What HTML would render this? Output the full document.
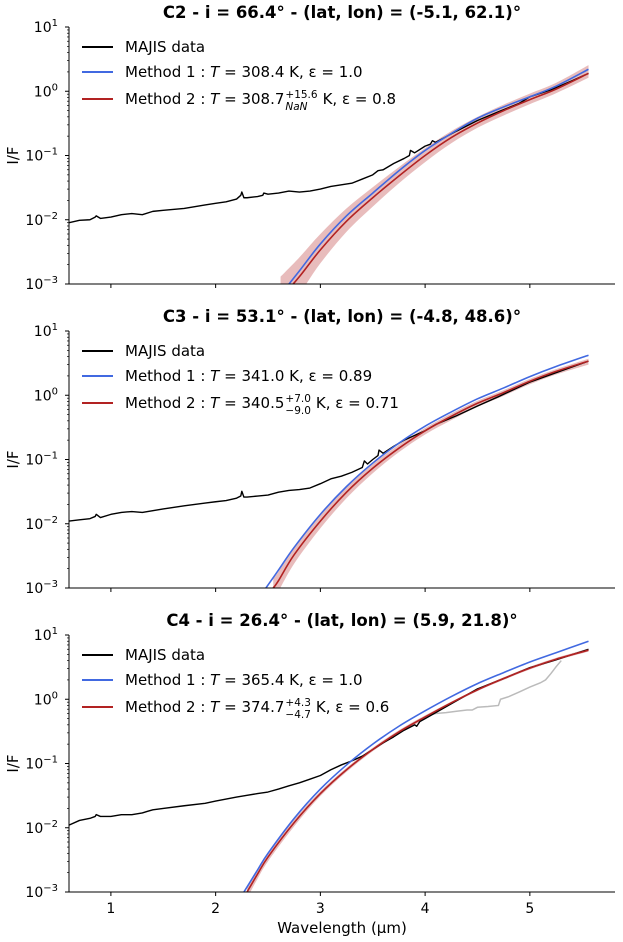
<!DOCTYPE html>
<html><head><meta charset="utf-8">
<style>
html,body{margin:0;padding:0;background:#fff;}
svg{display:block;font-family:"DejaVu Sans","Liberation Sans",sans-serif;}
</style></head>
<body>
<svg id="chart" width="623" height="942" viewBox="0 0 623 942" xmlns="http://www.w3.org/2000/svg"></svg>
<script>
// ---- data ----
const panelTitles = ["C2 - i = 66.4° - (lat, lon) = (-5.1, 62.1)°","C3 - i = 53.1° - (lat, lon) = (-4.8, 48.6)°","C4 - i = 26.4° - (lat, lon) = (5.9, 21.8)°"];
const m1Labels = ["308.4 K, ε = 1.0","341.0 K, ε = 0.89","365.4 K, ε = 1.0"];
const m2Main = ["308.7","340.5","374.7"];
const m2Sup = ["+15.6","+7.0","+4.3"];
const m2Sub = ["NaN","−9.0","−4.7"];
const m2Eps = ["K, ε = 0.8","K, ε = 0.71","K, ε = 0.6"];
const xTicks = [1,2,3,4,5];
const yTickExp = [-3,-2,-1,0,1];

const c2DataX = [0.6,0.7,0.8,0.85,0.86,0.9,1.0,1.1,1.2,1.3,1.4,1.5,1.7,1.9,2.0,2.1,2.2,2.24,2.25,2.27,2.3,2.4,2.45,2.46,2.5,2.6,2.7,2.8,2.9,3.0,3.1,3.2,3.3,3.4,3.5,3.55,3.6,3.7,3.8,3.85,3.86,3.9,4.0,4.05,4.07,4.1,4.3,4.5,4.7,4.9,5.0,5.2,5.4,5.56];
const c2DataY = [0.009,0.0098,0.010,0.011,0.0115,0.0105,0.011,0.012,0.0125,0.012,0.0135,0.014,0.015,0.017,0.018,0.019,0.021,0.024,0.027,0.022,0.022,0.023,0.024,0.026,0.025,0.026,0.028,0.027,0.028,0.030,0.033,0.035,0.037,0.043,0.050,0.058,0.060,0.075,0.090,0.10,0.12,0.11,0.14,0.15,0.17,0.16,0.24,0.35,0.48,0.65,0.82,1.05,1.45,1.9];
const c2M1X = [2.7,2.8,3.0,3.25,3.5,3.75,4.0,4.25,4.5,4.75,5.0,5.25,5.56];
const c2M1Y = [0.001,0.0016,0.0042,0.0115,0.026,0.058,0.12,0.22,0.38,0.57,0.82,1.2,2.2];
const c2M2X = [2.62,2.8,3.0,3.25,3.5,3.75,4.0,4.25,4.5,4.75,5.0,5.25,5.56];
const c2M2Y = [0.0006,0.0013,0.0034,0.0095,0.022,0.048,0.10,0.19,0.32,0.5,0.74,1.08,1.9];
const c2BandHi = [0.0013,0.0026,0.006,0.015,0.032,0.066,0.13,0.24,0.4,0.62,0.92,1.35,2.55];
const c2BandLo = [0.0003,0.0007,0.0021,0.0065,0.016,0.037,0.079,0.155,0.27,0.42,0.63,0.93,1.62];

const c3DataX = [0.6,0.7,0.8,0.85,0.86,0.9,1.0,1.1,1.2,1.3,1.4,1.5,1.7,1.9,2.0,2.1,2.2,2.24,2.25,2.27,2.3,2.4,2.5,2.6,2.7,2.8,2.9,3.0,3.1,3.2,3.3,3.4,3.42,3.45,3.5,3.55,3.56,3.6,3.7,3.8,4.0,4.1,4.3,4.5,4.7,5.0,5.3,5.56];
const c3DataY = [0.011,0.0115,0.012,0.013,0.014,0.0125,0.014,0.015,0.0155,0.015,0.016,0.017,0.019,0.021,0.022,0.023,0.025,0.027,0.032,0.026,0.026,0.027,0.028,0.031,0.033,0.034,0.036,0.042,0.05,0.055,0.063,0.075,0.095,0.085,0.1,0.115,0.14,0.125,0.16,0.2,0.28,0.35,0.48,0.68,0.95,1.6,2.4,3.4];
const c3M1X = [2.48,2.6,2.75,3.0,3.25,3.5,3.75,4.0,4.25,4.5,4.75,5.0,5.25,5.56];
const c3M1Y = [0.001,0.0019,0.0043,0.014,0.038,0.088,0.18,0.33,0.55,0.88,1.3,1.95,2.8,4.2];
const c3M2X = [2.55,2.6,2.75,3.0,3.25,3.5,3.75,4.0,4.25,4.5,4.75,5.0,5.25,5.56];
const c3M2Y = [0.001,0.0013,0.0033,0.011,0.031,0.073,0.15,0.28,0.47,0.75,1.1,1.65,2.35,3.4];
const c3BandHi = [0.0014,0.0018,0.0043,0.0135,0.037,0.085,0.17,0.31,0.52,0.82,1.2,1.8,2.55,3.7];
const c3BandLo = [0.0007,0.0009,0.0024,0.0085,0.025,0.061,0.13,0.245,0.41,0.66,0.98,1.48,2.1,3.0];

const c4DataX = [0.6,0.7,0.8,0.85,0.86,0.9,1.0,1.1,1.2,1.3,1.35,1.4,1.5,1.7,1.9,2.0,2.1,2.2,2.3,2.4,2.5,2.6,2.7,2.8,2.9,3.0,3.1,3.2,3.3,3.4,3.5,3.6,3.7,3.8,3.9,3.92,3.95,4.0,4.25,4.5,4.75,5.0,5.25,5.56];
const c4DataY = [0.011,0.013,0.014,0.015,0.016,0.015,0.015,0.016,0.016,0.017,0.018,0.019,0.020,0.022,0.024,0.026,0.028,0.030,0.032,0.034,0.036,0.040,0.045,0.050,0.057,0.065,0.08,0.095,0.11,0.13,0.165,0.21,0.26,0.33,0.40,0.38,0.45,0.5,0.85,1.45,2.1,3.1,4.1,6.0];
const c4GreyX = [3.95,4.05,4.1,4.2,4.3,4.4,4.45,4.5,4.6,4.7,4.72,4.8,4.9,5.0,5.1,5.15,5.2,5.25,5.3];
const c4GreyY = [0.45,0.57,0.6,0.62,0.65,0.68,0.68,0.75,0.77,0.8,1.0,1.1,1.3,1.55,1.8,2.0,2.5,3.2,4.0];
const c4M1X = [2.27,2.4,2.5,2.75,3.0,3.25,3.5,3.75,4.0,4.25,4.5,4.75,5.0,5.25,5.56];
const c4M1Y = [0.001,0.0022,0.004,0.014,0.04,0.095,0.2,0.38,0.66,1.1,1.75,2.6,3.8,5.3,8.0];
const c4M2X = [2.3,2.4,2.5,2.75,3.0,3.25,3.5,3.75,4.0,4.25,4.5,4.75,5.0,5.25,5.56];
const c4M2Y = [0.001,0.0019,0.0035,0.012,0.034,0.08,0.165,0.31,0.53,0.88,1.4,2.1,3.05,4.2,5.8];
const c4BandHi = [0.0012,0.0022,0.004,0.0135,0.037,0.086,0.176,0.33,0.56,0.92,1.46,2.2,3.2,4.4,6.1];
const c4BandLo = [0.0008,0.0016,0.003,0.0105,0.031,0.074,0.155,0.29,0.5,0.84,1.34,2.0,2.9,4.0,5.5];

const panels = [
 {top:27,data:[c2DataX,c2DataY],m1:[c2M1X,c2M1Y],m2:[c2M2X,c2M2Y],hi:c2BandHi,lo:c2BandLo,grey:null},
 {top:331,data:[c3DataX,c3DataY],m1:[c3M1X,c3M1Y],m2:[c3M2X,c3M2Y],hi:c3BandHi,lo:c3BandLo,grey:null},
 {top:635,data:[c4DataX,c4DataY],m1:[c4M1X,c4M1Y],m2:[c4M2X,c4M2Y],hi:c4BandHi,lo:c4BandLo,grey:[c4GreyX,c4GreyY]}
];
// ---- layout ----
const L=69,R=615,H=257,XMIN=0.6,XMAX=5.813;
const NS="http://www.w3.org/2000/svg";
const svg=document.getElementById('chart');
function mk(tag,attrs,parent){const e=document.createElementNS(NS,tag);for(const k in attrs)e.setAttribute(k,attrs[k]);(parent||svg).appendChild(e);return e;}
const xs=v=>L+(v-XMIN)/(XMAX-XMIN)*(R-L);
function ysFor(top){return v=>top+(1-Math.log10(v))/4*H;}
function pathD(X,Y,ys){return X.map((x,i)=>(i?'L':'M')+xs(x).toFixed(2)+','+ys(Y[i]).toFixed(2)).join('');}
function smoothD(X,Y,ys){
  const P=X.map((x,i)=>[xs(x),ys(Y[i])]);let d='M'+P[0][0]+','+P[0][1];
  for(let i=0;i<P.length-1;i++){const p0=P[i-1]||P[i],p1=P[i],p2=P[i+1],p3=P[i+2]||p2;
    const c1=[p1[0]+(p2[0]-p0[0])/6,p1[1]+(p2[1]-p0[1])/6],c2=[p2[0]-(p3[0]-p1[0])/6,p2[1]-(p3[1]-p1[1])/6];
    d+='C'+c1.join(',')+' '+c2.join(',')+' '+p2.join(',');}
  return d;}
panels.forEach((p,pi)=>{
  const ys=ysFor(p.top),bot=p.top+H;
  const g=mk('g',{});
  
  
  const cp=mk('clipPath',{id:'clip'+pi},g);mk('rect',{x:L,y:p.top,width:R-L,height:H},cp);
  const plot=mk('g',{'clip-path':'url(#clip'+pi+')'},g);
  const P=p.m2[0];
  const bd=smoothD(P,p.hi,ys)+smoothD(P.slice().reverse(),p.lo.slice().reverse(),ys).replace('M','L')+'Z';
  const band=mk('path',{d:bd,fill:'#b22222','fill-opacity':0.3,stroke:'none'},plot);
  
  
  if(p.grey){const gr=mk('path',{d:pathD(p.grey[0],p.grey[1],ys),fill:'none',stroke:'#bbbbbb','stroke-width':1.5},plot);
    
    }
  const dl=mk('path',{d:pathD(p.data[0],p.data[1],ys),fill:'none',stroke:'#000','stroke-width':1.4,'stroke-linejoin':'round'},plot);
  
  
  const b1=mk('path',{d:smoothD(p.m1[0],p.m1[1],ys),fill:'none',stroke:'#4169e1','stroke-width':1.6},plot);
  
  
  const r2=mk('path',{d:smoothD(p.m2[0],p.m2[1],ys),fill:'none',stroke:'#b22222','stroke-width':1.6},plot);
  
  
  const ax=mk('path',{d:`M${L},${p.top}V${bot}H${R}`,fill:'none',stroke:'#000','stroke-width':1},g);
  
  
  xTicks.forEach(t=>{mk('line',{x1:xs(t),x2:xs(t),y1:bot,y2:bot+4,stroke:'#000'},g);
    if(pi===2){const tl=mk('text',{x:xs(t),y:bot+21,'font-size':14,'text-anchor':'middle'},g);tl.textContent=t;
      
      }});
  yTickExp.forEach(e=>{const y=ys(Math.pow(10,e));mk('line',{x1:L-4,x2:L,y1:y,y2:y,stroke:'#000'},g);
    const tl=mk('text',{x:58,y:y+5,'font-size':14,'text-anchor':'end'},g);
    tl.innerHTML='10<tspan dy="-6" font-size="10">'+(e<0?'−':'')+Math.abs(e)+'</tspan>';
    
    
    if(e<1)for(let m=2;m<10;m++){const ym=ys(m*Math.pow(10,e));mk('line',{x1:L-2,x2:L,y1:ym,y2:ym,stroke:'#000','stroke-width':0.7},g);}});
  const yl=mk('text',{x:18,y:p.top+H/2,'font-size':15,'text-anchor':'middle',transform:`rotate(-90 18 ${p.top+H/2})`},g);
  yl.textContent='I/F';
  
  
  const tt=mk('text',{x:342,y:p.top-9,'font-size':16.5,'font-weight':'bold','text-anchor':'middle'},g);
  tt.textContent=panelTitles[pi];
  
  
  const lg=mk('g',{},g);
  
  
  const rows=[[p.top+20,'#000'],[p.top+45,'#4169e1'],[p.top+72,'#b22222']];
  rows.forEach((r,ri)=>{mk('line',{x1:82,x2:113,y1:r[0],y2:r[0],stroke:r[1],'stroke-width':2},lg);
    const t=mk('text',{x:125,y:r[0]+5,'font-size':15},lg);
    
    
    if(ri===0)t.textContent='MAJIS data';
    else if(ri===1)t.innerHTML='Method 1 : <tspan font-style="italic">T</tspan> = '+m1Labels[pi];
    else{
      t.innerHTML='Method 2 : <tspan font-style="italic">T</tspan> = '+m2Main[pi];
      const x0=125+t.getComputedTextLength()+1;
      const sup=mk('text',{x:x0,y:r[0]-1,'font-size':10.5},lg);sup.textContent=m2Sup[pi];
      const sub=mk('text',{x:x0,y:r[0]+11,'font-size':10.5,'font-style':pi===0?'italic':'normal'},lg);sub.textContent=m2Sub[pi];
      const w=Math.max(sup.getComputedTextLength(),sub.getComputedTextLength());
      const rest=mk('text',{x:x0+w+5,y:r[0]+5,'font-size':15},lg);rest.textContent=m2Eps[pi];
    }});
});
const xt=mk('text',{x:342,y:933,'font-size':15,'text-anchor':'middle'});
xt.textContent='Wavelength (µm)';


</script>
</body></html>
